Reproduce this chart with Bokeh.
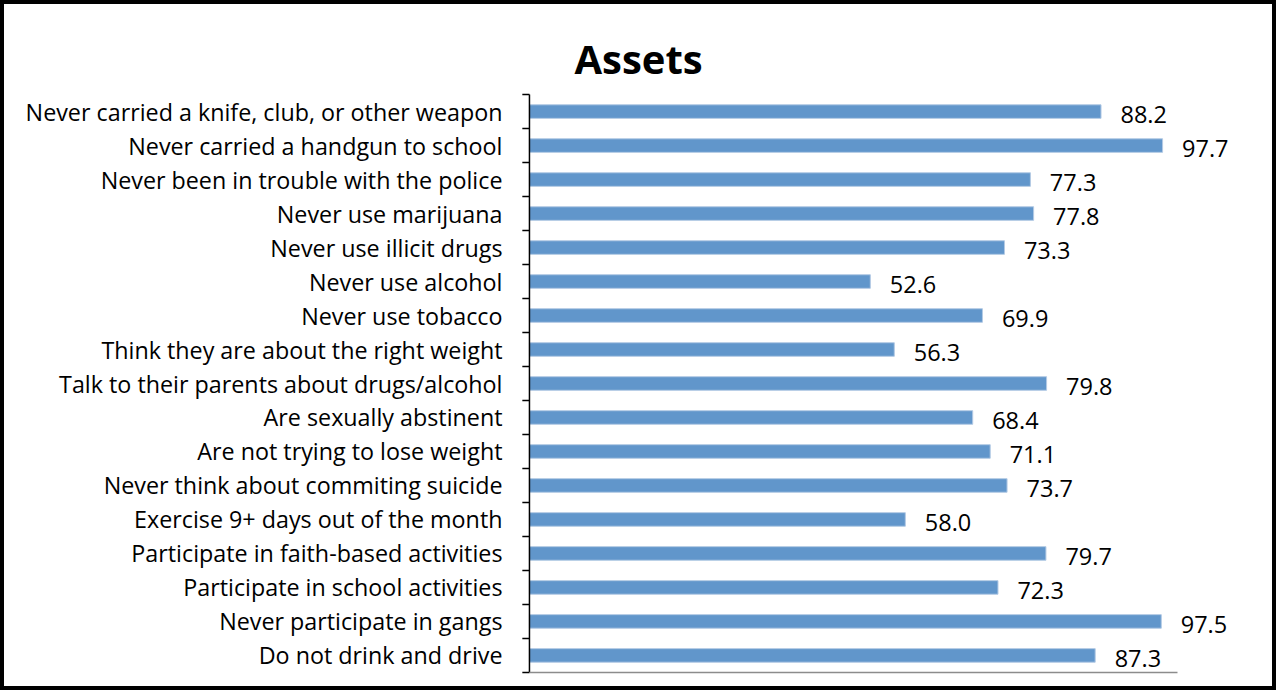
from bokeh.plotting import figure
from bokeh.models import FactorRange, Range1d, ColumnDataSource, Title
from bokeh.core.properties import value
from bokeh.embed import file_html
from bokeh.resources import INLINE

categories = [
    "Never carried a knife, club, or other weapon",
    "Never carried a handgun to school",
    "Never been in trouble with the police",
    "Never use marijuana",
    "Never use illicit drugs",
    "Never use alcohol",
    "Never use tobacco",
    "Think they are about the right weight",
    "Talk to their parents about drugs/alcohol",
    "Are sexually abstinent",
    "Are not trying to lose weight",
    "Never think about commiting suicide",
    "Exercise 9+ days out of the month",
    "Participate in faith-based activities",
    "Participate in school activities",
    "Never participate in gangs",
    "Do not drink and drive",
]
values = [88.2, 97.7, 77.3, 77.8, 73.3, 52.6, 69.9, 56.3, 79.8, 68.4, 71.1,
          73.7, 58.0, 79.7, 72.3, 97.5, 87.3]
title_text = "Assets"
axis_max = 100

FONT = "Open Sans"
PX_PER_UNIT = 6.48
X_START = -2.0
BORDER = 4
W, H = 1268, 682           # inner (content) size; border is added outside
content_x0 = 8 + BORDER
content_y0 = 8 + BORDER
canvas_w = W + 2 * BORDER  # Bokeh sizes its canvas to the outer box
canvas_h = H + 2 * BORDER
frame_left = 537 + X_START * PX_PER_UNIT
frame_right = content_x0 + canvas_w
frame_top = 98
frame_bottom = 684

x_end = X_START + (frame_right - frame_left) / PX_PER_UNIT

src = ColumnDataSource(dict(
    cat=categories,
    val=values,
    lx=[v + 3.0 for v in values],
    lab=["%.1f" % v for v in values],
))

yr = FactorRange(*list(reversed(categories)), range_padding=0.12,
                 range_padding_units="absolute")

p = figure(width=W, height=H,
           y_range=yr, x_range=Range1d(X_START, x_end),
           output_backend="svg", toolbar_location=None,
           min_border_left=int(round(frame_left - content_x0)),
           min_border_right=0,
           min_border_top=int(frame_top - content_y0),
           min_border_bottom=int(content_y0 + canvas_h - frame_bottom),
           title=None)
p.styles = {"border": "%dpx solid black" % BORDER,
            "box-sizing": "content-box"}

p.add_layout(Title(text=title_text, align="left", offset=58,
                   text_font=FONT, text_font_size="40px",
                   text_font_style="bold", text_color="black",
                   standoff=10), "above")

p.outline_line_color = None
p.xgrid.visible = False
p.ygrid.visible = False
p.xaxis.visible = False

ax = p.yaxis[0]
ax.axis_line_color = None
ax.major_tick_line_color = None
ax.major_tick_out = 0
ax.major_tick_in = 0
ax.minor_tick_line_color = None
ax.major_label_standoff = 14
ax.major_label_text_font = FONT
ax.major_label_text_font_size = "23.3px"
ax.major_label_text_color = "black"

p.hbar(y="cat", right="val", left=0, height=0.4, source=src,
       fill_color="#6196CB", line_color="#B3CAE4", line_width=1)

p.text(x="lx", y="cat", text="lab", source=src,
       text_font=value(FONT), text_font_size="23.5px", text_color="black",
       text_baseline="middle", text_align="left", y_offset=3)

# category axis line and boundary ticks
n = len(categories)
p.segment(x0=[0], x1=[0], y0=[0], y1=[n], line_color="black", line_width=1.5)
p.segment(x0=[-1.1] * (n + 1), x1=[0] * (n + 1), y0=list(range(n + 1)),
          y1=list(range(n + 1)), line_color="black", line_width=1.5)
# value axis baseline
p.segment(x0=[0], x1=[axis_max], y0=[0], y1=[0], line_color="#8C8C8C",
          line_width=1.5)

open("out.html", "w").write(file_html(p, INLINE))
